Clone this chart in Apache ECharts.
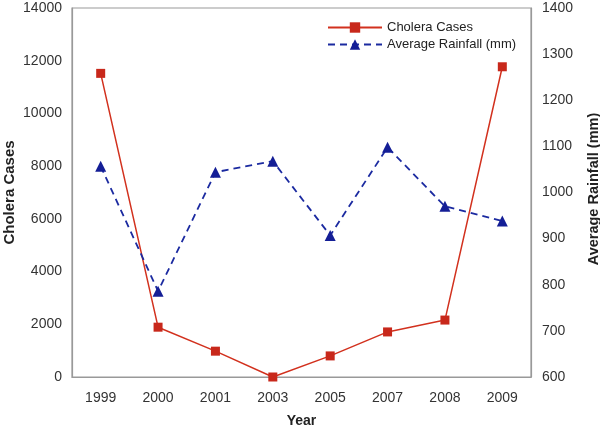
<!DOCTYPE html>
<html><head><meta charset="utf-8">
<script src="https://cdn.jsdelivr.net/npm/echarts@6/dist/echarts.min.js"></script>
<style>html,body{margin:0;padding:0;background:#fff}#c{width:600px;height:427px}</style>
</head><body><div id="c"></div>
<script>
const years = ['1999','2000','2001','2003','2005','2007','2008','2009'];
const choleraCases = [11520, 1890, 980, 0, 800, 1710, 2160, 11770];
const avgRainfall = [1057, 786, 1044, 1068, 907, 1098, 970, 938];
const leftTicks = [0, 14000, 2000];
const rightTicks = [600, 1400, 100];

const font = 'Liberation Sans, Arial, sans-serif';
const chart = echarts.init(document.getElementById('c'));
chart.setOption({
  animation: false,
  textStyle: { fontFamily: font },
  grid: { left: 72, right: 69, top: 8, bottom: 50, show: true, borderColor: '#999', borderWidth: 1.2, containLabel: false, outerBoundsMode: 'none' },
  legend: {
    orient: 'vertical', left: 322, top: 16, itemGap: 4, itemWidth: 54, itemHeight: 13,
    textStyle: { fontSize: 13, color: '#222', fontFamily: font },
    data: ['Cholera Cases', 'Average Rainfall (mm)']
  },
  xAxis: {
    type: 'category', data: years, boundaryGap: true,
    name: 'Year', nameLocation: 'middle', nameGap: 37,
    nameTextStyle: { fontWeight: 'bold', fontSize: 14, color: '#222' },
    axisLine: { lineStyle: { color: '#999', width: 1.2 } },
    axisTick: { show: false },
    axisLabel: { fontSize: 14, color: '#333', margin: 14 },
    splitLine: { show: false }
  },
  yAxis: [{
    type: 'value', min: leftTicks[0], max: leftTicks[1], interval: leftTicks[2],
    name: 'Cholera Cases', nameLocation: 'middle', nameGap: 55, nameRotate: 90, nameMoveOverlap: false,
    nameTextStyle: { fontWeight: 'bold', fontSize: 15, color: '#222' },
    axisLine: { show: true, lineStyle: { color: '#999', width: 1.2 } },
    axisTick: { show: false },
    axisLabel: { fontSize: 14, color: '#333', margin: 10, formatter: v => String(v) },
    splitLine: { show: false }
  }, {
    type: 'value', min: rightTicks[0], max: rightTicks[1], interval: rightTicks[2],
    name: 'Average Rainfall (mm)', nameLocation: 'middle', nameGap: 55, nameRotate: 90, nameMoveOverlap: false,
    nameTextStyle: { fontWeight: 'bold', fontSize: 14.5, color: '#222', padding: [0, 0, 0, 7] },
    axisLine: { show: true, lineStyle: { color: '#999', width: 1.2 } },
    axisTick: { show: false },
    axisLabel: { fontSize: 14, color: '#333', margin: 11, formatter: v => String(v) },
    splitLine: { show: false }
  }],
  series: [{
    name: 'Cholera Cases', type: 'line', yAxisIndex: 0, data: choleraCases,
    symbol: 'rect', symbolSize: 9,
    lineStyle: { color: '#d2311e', width: 1.5 },
    itemStyle: { color: '#c8281b' }
  }, {
    name: 'Average Rainfall (mm)', type: 'line', yAxisIndex: 1, data: avgRainfall,
    symbol: 'triangle', symbolSize: 11,
    lineStyle: { color: '#1b2aa0', width: 1.8, type: [7, 5] },
    itemStyle: { color: '#141e96' }
  }]
});
</script></body></html>
